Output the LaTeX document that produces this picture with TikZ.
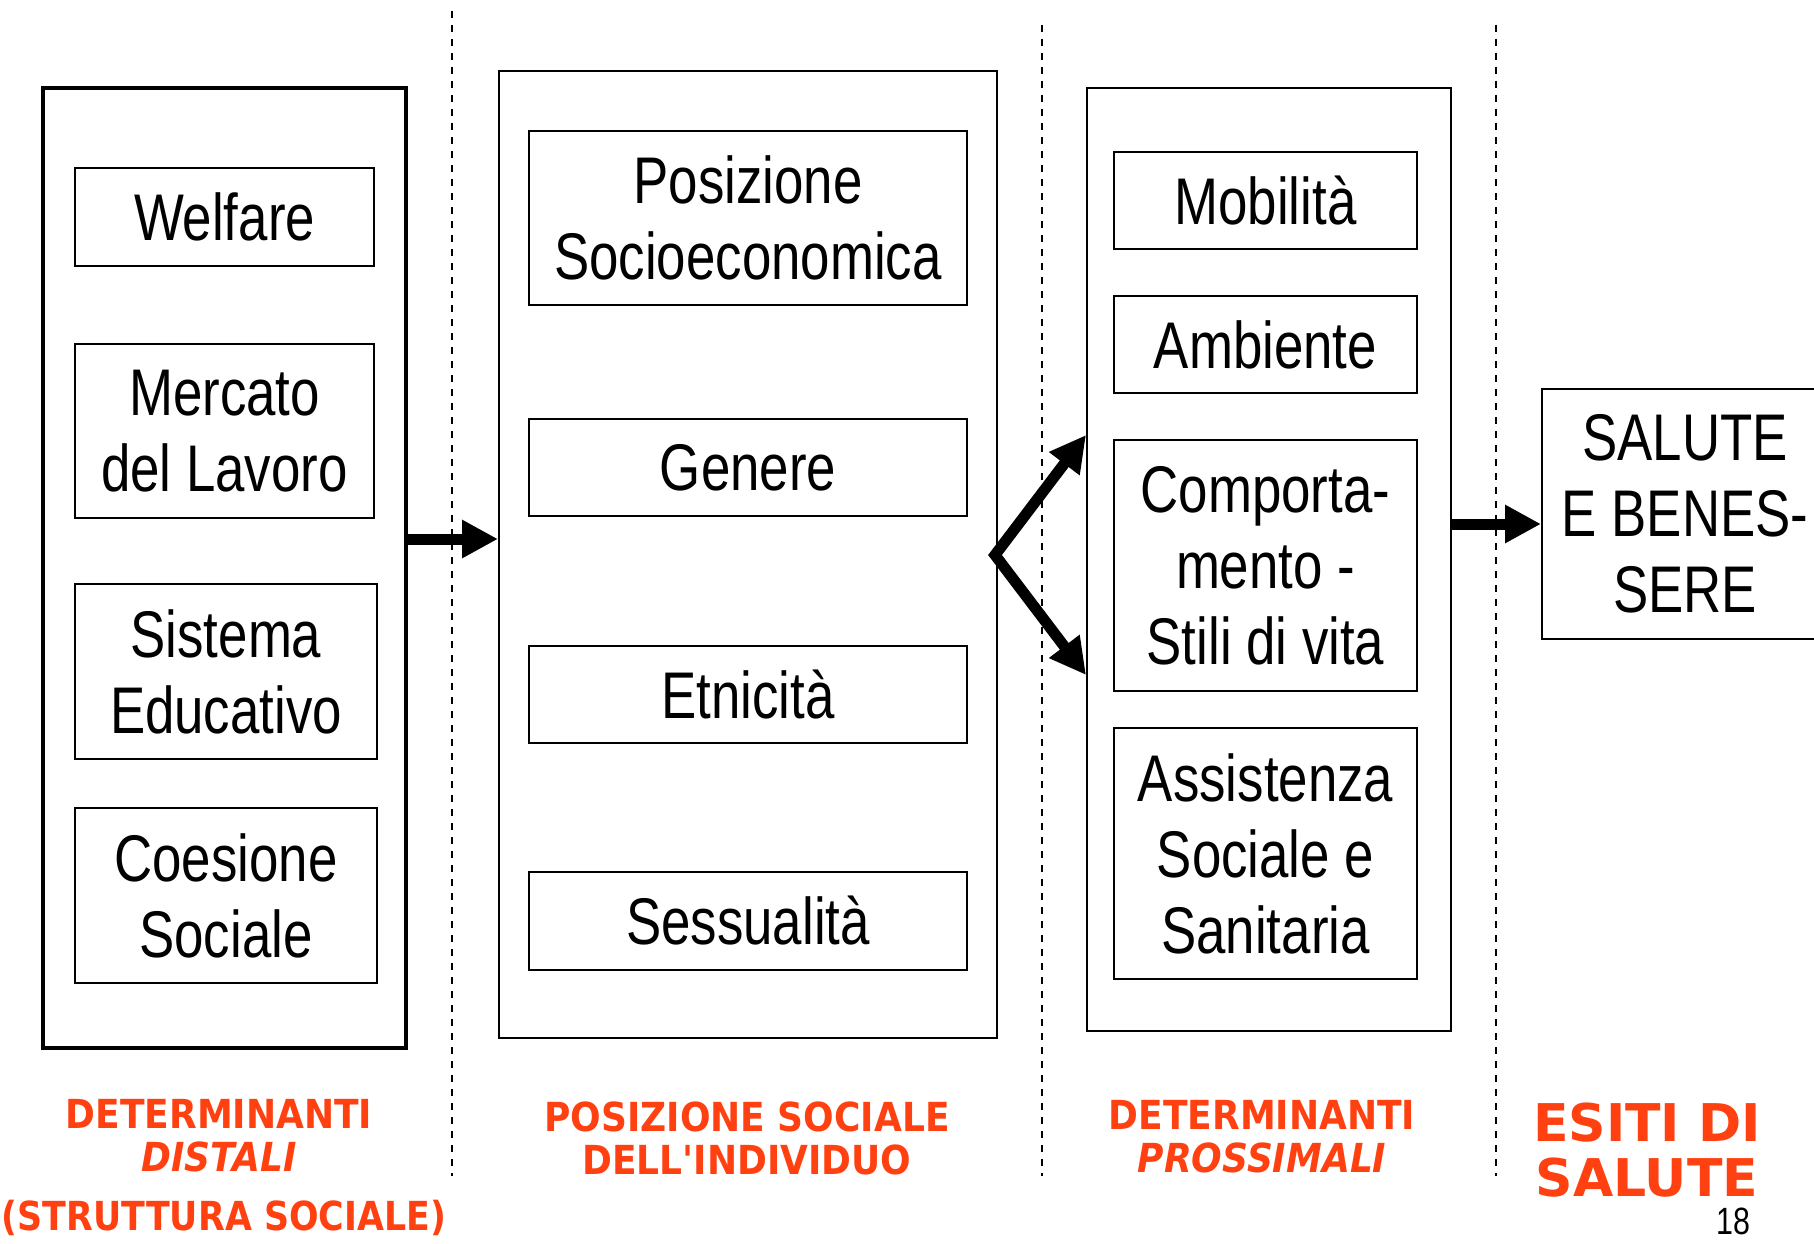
\documentclass[tikz,border=0pt]{standalone}
\usepackage{fontspec}
\setmainfont{Liberation Sans}[FakeStretch=0.8]
\newfontfamily\redfont{DejaVu Sans}[FakeStretch=0.9]
\newfontfamily\redfontwide{DejaVu Sans}[FakeStretch=1.0]
\newfontfamily\redfontnarrow{DejaVu Sans}[FakeStretch=0.87]
\usetikzlibrary{arrows.meta}
\definecolor{lblred}{HTML}{FF4010}
\tikzset{
  box/.style={draw, line width=2pt, inner sep=0pt, align=center,
    font=\fontsize{66}{76}\selectfont},
  outerbox/.style={draw, line width=2pt, inner sep=0pt},
  divider/.style={line width=1.5pt, dash pattern=on 7pt off 7pt},
  bigarrow/.style={line width=11pt, -{Triangle[length=36pt,width=36pt]}},
  lbl/.style={text=lblred, font=\redfont\bfseries\fontsize{40}{43}\selectfont,
    anchor=base, inner sep=0pt},
  lblbig/.style={lbl, font=\redfontwide\bfseries\fontsize{52}{57}\selectfont},
}
\begin{document}
\begin{tikzpicture}[x=1pt,y=-1pt]
\useasboundingbox (0,0) rectangle (1814,1244);
% dividers
\draw[divider] (452,11) -- (452,1176);
\draw[divider] (1042,25) -- (1042,1176);
\draw[divider] (1496,25) -- (1496,1176);
% outer boxes
\node[outerbox, line width=4pt, minimum width=363pt, minimum height=960pt] (L) at (224.4,568) {};
\node[outerbox, minimum width=498pt, minimum height=967pt] (M) at (748,554.5) {};
\node[outerbox, minimum width=364pt, minimum height=943pt] (P) at (1269,559.5) {};
\node[box, fill=white, minimum width=286pt, minimum height=250pt] (S) at (1685,514) {SALUTE\\E BENES-\\SERE};
% left column
\node[box, minimum width=299pt, minimum height=98pt] (welf) at (224.5,217) {Welfare};
\node[box, minimum width=299pt, minimum height=174pt] (merc) at (224.5,431) {Mercato\\del Lavoro};
\node[box, minimum width=302pt, minimum height=175pt] (sist) at (226,671.5) {Sistema\\Educativo};
\node[box, minimum width=302pt, minimum height=175pt] (coes) at (226,895.5) {Coesione\\Sociale};
% middle column
\node[box, minimum width=438pt, minimum height=174pt] (pos) at (748,218) {Posizione\\Socioeconomica};
\node[box, minimum width=438pt, minimum height=97pt] (gen) at (748,467.5) {Genere};
\node[box, minimum width=438pt, minimum height=97pt] (etn) at (748,694.5) {Etnicità};
\node[box, minimum width=438pt, minimum height=98pt] (sess) at (748,921) {Sessualità};
% right column
\node[box, minimum width=303pt, minimum height=97pt] (mob) at (1265.5,200.5) {Mobilità};
\node[box, minimum width=303pt, minimum height=97pt] (amb) at (1265.5,344.5) {Ambiente};
\node[box, minimum width=303pt, minimum height=251pt] (comp) at (1265.5,565.5) {Comporta-\\mento -\\Stili di vita};
\node[box, minimum width=303pt, minimum height=251pt] (assi) at (1265.5,853.5) {Assistenza\\Sociale e\\Sanitaria};
% arrows
\coordinate (a1) at (L.east |- 0,539);
\draw[bigarrow] (a1) -- (a1 -| M.west);
\coordinate (v) at (995,555);
\coordinate (t1) at (P.west |- 0,435);
\coordinate (t2) at (P.west |- 0,675);
\draw[line width=11pt, line join=miter, {Triangle[length=36pt,width=36pt]}-{Triangle[length=36pt,width=36pt]}] (t1) -- (v) -- (t2);
\coordinate (a2) at (P.east |- 0,524);
\draw[bigarrow] (a2) -- (a2 -| S.west);
% labels
\node[lbl] (l1a) at (219,1128) {DETERMINANTI};
\node[lbl] (l1b) at (219,1171) {\itshape DISTALI};
\node[lbl, font=\redfontnarrow\bfseries\fontsize{40}{43}\selectfont] (l1c) at (224,1230) {(STRUTTURA SOCIALE)};
\node[lbl] (l2a) at (747,1131) {POSIZIONE SOCIALE};
\node[lbl] (l2b) at (747,1174) {DELL'INDIVIDUO};
\node[lbl] (l3a) at (1262,1129) {DETERMINANTI};
\node[lbl] (l3b) at (1262,1172) {\itshape PROSSIMALI};
\node[lblbig] (l4a) at (1647,1141) {ESITI DI};
\node[lblbig] (l4b) at (1647,1196) {SALUTE};
\node[anchor=base, inner sep=0pt, font=\fontsize{38}{42}\selectfont] (pg) at (1733,1234) {18};
\end{tikzpicture}
\end{document}
